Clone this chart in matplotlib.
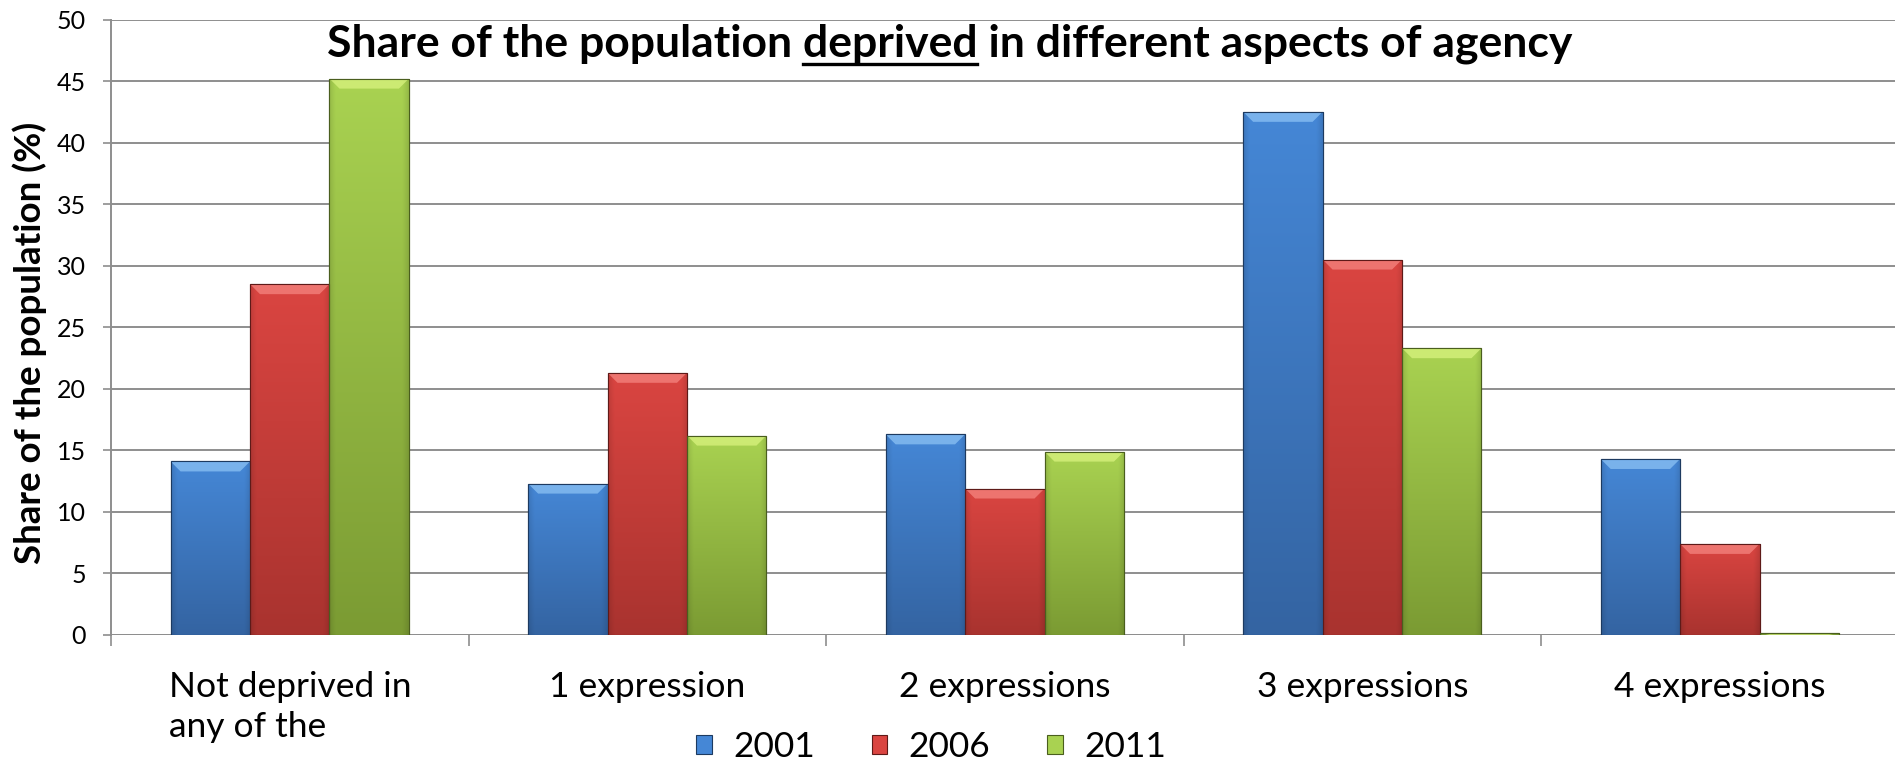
import numpy as np
import matplotlib
matplotlib.use("Agg")
import matplotlib.pyplot as plt
from matplotlib.patches import Polygon, Patch
from matplotlib.colors import to_rgb

# ---- data -------------------------------------------------------------
categories = ["Not deprived in\nany of the", "1 expression", "2 expressions",
              "3 expressions", "4 expressions"]
years = ["2001", "2006", "2011"]
share_2001 = [14.1, 12.3, 16.3, 42.5, 14.3]
share_2006 = [28.5, 21.3, 11.9, 30.5, 7.4]
share_2011 = [45.2, 16.2, 14.9, 23.3, 0.2]
y_ticks = [0, 5, 10, 15, 20, 25, 30, 35, 40, 45, 50]

title_text = "Share of the population deprived in different aspects of agency"
underlined_word = "deprived"
y_label = "Share of the population (%)"

# ---- styles -----------------------------------------------------------
styles = {
    "2001": dict(top="#4587D6", bottom="#3464A2", bevel="#8CC2F4", edge="#1D3A60"),
    "2006": dict(top="#DA4541", bottom="#A9332F", bevel="#F58580", edge="#5E1A18"),
    "2011": dict(top="#A9D251", bottom="#7B9B33", bevel="#D9F37F", edge="#4A5E1E"),
}
grid_color = "#8E8E8E"
FONT = "Lato"

W_PX, H_PX, DPI = 1895, 764, 100
fig = plt.figure(figsize=(W_PX / DPI, H_PX / DPI), dpi=DPI)
ax = fig.add_axes([111 / W_PX, 129 / H_PX, 1 - 111 / W_PX, (635 - 19.5) / H_PX])

x = np.arange(len(categories))
bar_w = 1 / 4.5
series = [share_2001, share_2006, share_2011]

ax.set_xlim(-0.5, 4.49)
ax.set_ylim(0, 50)
ax.set_axisbelow(True)

containers = []
for i, (year, vals) in enumerate(zip(years, series)):
    st = styles[year]
    bars = ax.bar(x + (i - 1) * bar_w, vals, width=bar_w, color=st["top"],
                  edgecolor=st["edge"], linewidth=0.8, zorder=2)
    containers.append((year, bars))

# pixel -> data conversion for bevel sizes
px_x = (ax.get_xlim()[1] - ax.get_xlim()[0]) / (W_PX * ax.get_position().width)
px_y = (ax.get_ylim()[1] - ax.get_ylim()[0]) / (H_PX * ax.get_position().height)


def shade(rect, st):
    bx, bw, bh = rect.get_x(), rect.get_width(), rect.get_height()
    if bh <= 0:
        return
    top = np.array(to_rgb(st["top"]))
    bot = np.array(to_rgb(st["bottom"]))
    v = np.linspace(0, 1, 80)[:, None, None]
    img = bot + (top - bot) * v
    img = np.repeat(img, 40, axis=1)
    hx = np.linspace(0, 1, 40)
    edge_dark = 1 - 0.10 * np.clip(1 - np.minimum(hx, 1 - hx) / 0.07, 0, 1)
    img = np.clip(img * edge_dark[None, :, None], 0, 1)
    im = ax.imshow(img, extent=(bx, bx + bw, 0, bh), origin="lower", aspect="auto",
                   interpolation="bilinear", zorder=2.1)
    im.set_clip_path(rect)
    dx = 10 * px_x
    dy = min(10 * px_y, bh)
    bevel = Polygon([(bx, bh), (bx + bw, bh), (bx + bw - dx, bh - dy), (bx + dx, bh - dy)],
                    closed=True, facecolor=st["bevel"], edgecolor="none", alpha=0.75,
                    zorder=2.2)
    ax.add_patch(bevel)
    bevel.set_clip_path(rect)
    # redraw outline on top
    outline = plt.Rectangle((bx, 0), bw, bh, facecolor="none", edgecolor=st["edge"],
                            linewidth=0.8, zorder=2.3)
    ax.add_patch(outline)


for year, bars in containers:
    for r in bars:
        shade(r, styles[year])

ax.set_xlim(-0.5, 4.49)
ax.set_ylim(0, 50)

# ---- axes, grid, ticks -----------------------------------------------
ax.set_yticks(y_ticks)
ax.yaxis.grid(True, color=grid_color, linewidth=1.4)
ax.tick_params(axis="y", length=6, width=1.2, color=grid_color, pad=12,
               labelsize=18)
for lab in ax.get_yticklabels():
    lab.set_fontfamily(FONT)

ax.set_xticks(x)
ax.set_xticklabels(categories, fontsize=25.5, fontfamily=FONT, multialignment="left",
                   linespacing=1.3)
ax.tick_params(axis="x", which="major", length=0, pad=26)
ax.set_xticks(np.arange(-0.5, 4.5, 1.0), minor=True)
ax.tick_params(axis="x", which="minor", length=8, width=1.2, color=grid_color)

for side in ["top", "right", "bottom"]:
    ax.spines[side].set_visible(False)
ax.spines["left"].set_color(grid_color)
ax.spines["left"].set_linewidth(1.4)
ax.axhline(0, color=grid_color, linewidth=1.4, zorder=1.5)

# ---- title with underlined word --------------------------------------
renderer = fig.canvas.get_renderer()
title_kw = dict(fontsize=32, fontweight="bold", fontfamily=FONT)
tx, ty = 949.5 / W_PX, (H_PX - 56) / H_PX
title = fig.text(tx, ty, title_text, ha="center", va="baseline", **title_kw)


def text_width(s):
    t = fig.text(0, 0, s, **title_kw)
    w = t.get_window_extent(renderer).width
    t.remove()
    return w


full_w = title.get_window_extent(renderer).width
left_px = tx * W_PX - full_w / 2
prefix = title_text.split(underlined_word)[0]
start_px = left_px + text_width(prefix + "x") - text_width("x")
end_px = left_px + text_width(prefix + underlined_word)
uy = (H_PX - 64) / H_PX
fig.add_artist(plt.Line2D([start_px / W_PX, end_px / W_PX], [uy, uy],
                          transform=fig.transFigure, color="black", linewidth=2.4))

# ---- y label ----------------------------------------------------------
fig.text(30 / W_PX, (H_PX - 343) / H_PX, y_label, rotation=90, ha="center",
         va="center", fontsize=26.5, fontweight="bold", fontfamily=FONT)

# ---- legend -----------------------------------------------------------
handles = [Patch(facecolor=styles[y]["top"], edgecolor=styles[y]["edge"], linewidth=0.8)
           for y in years]
fig.legend(handles, years, loc="center", bbox_to_anchor=(931 / W_PX, 17 / H_PX),
           ncol=3, frameon=False, prop=dict(family=FONT, size=25.5),
           handlelength=0.45, handleheight=0.45, handletextpad=0.6,
           columnspacing=1.6, borderpad=0, borderaxespad=0)

fig.savefig("out.png", dpi=DPI)
